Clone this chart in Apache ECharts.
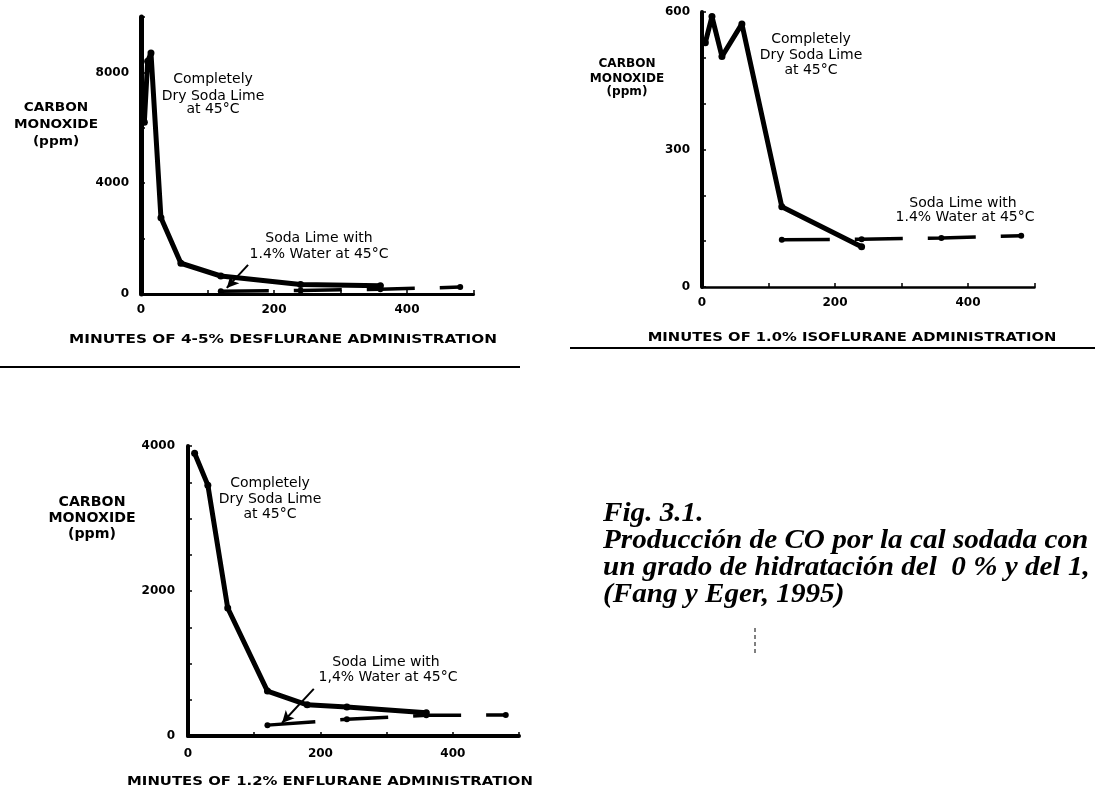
<!DOCTYPE html>
<html>
<head>
<meta charset="utf-8">
<script src="https://cdn.jsdelivr.net/npm/echarts@6/dist/echarts.min.js"></script>
<style>
  html, body { margin: 0; padding: 0; background: #fff; }
  #chart { width: 1095px; height: 801px; }
</style>
</head>
<body>
<div id="chart"></div>
<script>
// CO (ppm) vs minutes of anaesthetic administration, dry and 1.4 % water soda lime at 45 °C

// Desflurane 4-5 %
const desDryMinutes = [5, 10, 15, 30, 60, 120, 240, 360];
const desDryPpm     = [6200, 8400, 8700, 2750, 1110, 650, 340, 300];
const desWetMinutes = [120, 240, 360, 480];
const desWetPpm     = [100, 130, 170, 250];

// Isoflurane 1.0 %
const isoDryMinutes = [5, 15, 30, 60, 120, 240];
const isoDryPpm     = [533, 590, 503, 574, 175, 88];
const isoWetMinutes = [120, 240, 360, 480];
const isoWetPpm     = [103, 104, 107, 112];

// Enflurane 1.2 %
const enfDryMinutes = [10, 30, 60, 120, 180, 240, 360];
const enfDryPpm     = [3900, 3460, 1765, 620, 430, 400, 320];
const enfWetMinutes = [120, 240, 360, 480];
const enfWetPpm     = [150, 230, 285, 290];

// labelled tick values
const minuteTickLabels = [0, 200, 400];
const desPpmTickLabels = [0, 4000, 8000];
const isoPpmTickLabels = [0, 300, 600];
const enfPpmTickLabels = [0, 2000, 4000];

const pairs = (xs, ys) => xs.map((x, i) => [x, ys[i]]);

const tickFont = { color: '#000', fontFamily: 'DejaVu Sans', fontWeight: 'bold', fontSize: 12 };

function xAxisFor(gridIndex, lineWidth, margin) {
  return {
    type: 'value', gridIndex, min: 0, max: 500, interval: 100,
    axisLine: { show: true, onZero: false, lineStyle: { color: '#000', width: lineWidth } },
    axisTick: { show: true, inside: true, length: 4, lineStyle: { color: '#000', width: 1.5 } },
    axisLabel: Object.assign({ margin, formatter: v => minuteTickLabels.includes(v) ? String(v) : '' }, tickFont),
    splitLine: { show: false }
  };
}

function yAxisFor(gridIndex, max, interval, labels, lineWidth, margin) {
  return {
    type: 'value', gridIndex, min: 0, max, interval,
    axisLine: { show: true, onZero: false, lineStyle: { color: '#000', width: lineWidth } },
    axisTick: { show: true, inside: true, length: 4, lineStyle: { color: '#000', width: 1.5 } },
    axisLabel: Object.assign({ margin, formatter: v => labels.includes(v) ? String(v) : '' }, tickFont),
    splitLine: { show: false }
  };
}

function drySeries(idx, data) {
  return {
    type: 'line', xAxisIndex: idx, yAxisIndex: idx, data,
    symbol: 'circle', symbolSize: 7, showSymbol: true,
    itemStyle: { color: '#000' },
    lineStyle: { color: '#000', width: 5, join: 'round', cap: 'round' },
    z: 3
  };
}

function wetSeries(idx, data, arrow) {
  const s = {
    type: 'line', xAxisIndex: idx, yAxisIndex: idx, data,
    symbol: 'circle', symbolSize: 6, showSymbol: true,
    itemStyle: { color: '#000' },
    lineStyle: { color: '#000', width: 3.5, type: [48, 25] },
    z: 2
  };
  if (arrow) {
    s.markLine = {
      silent: true, animation: false,
      symbol: ['none', 'arrow'], symbolSize: [9, 12],
      label: { show: false },
      lineStyle: { color: '#000', width: 2, type: 'solid' },
      data: [[{ coord: arrow[0] }, { coord: arrow[1] }]]
    };
  }
  return s;
}

function text(str, x, y, font, scaleX, align) {
  return {
    type: 'text', x, y, scaleX: scaleX || 1, silent: true,
    style: {
      text: str, font, fill: '#000',
      align: align || 'center', verticalAlign: 'middle',
      textAlign: align || 'center', textVerticalAlign: 'middle'
    }
  };
}

const nameFont = size => 'bold ' + size + 'px "DejaVu Sans"';
const noteFont = '14px "DejaVu Sans"';
const titleFont = 'bold 13px "DejaVu Sans"';
const captionFont = 'italic bold 27px "Liberation Serif"';

const graphics = [
  // y-axis names
  text('CARBON', 56, 108, nameFont(13), 1.05),
  text('MONOXIDE', 56, 125, nameFont(13), 1.05),
  text('(ppm)', 56, 142, nameFont(13), 1.05),
  text('CARBON', 627, 64, nameFont(11.5), 1.05),
  text('MONOXIDE', 627, 79, nameFont(11.5), 1.05),
  text('(ppm)', 627, 92, nameFont(11.5), 1.05),
  text('CARBON', 92, 502, nameFont(13.5), 1.05),
  text('MONOXIDE', 92, 518, nameFont(13.5), 1.05),
  text('(ppm)', 92, 534, nameFont(13.5), 1.05),

  // x-axis titles
  text('MINUTES OF 4-5% DESFLURANE ADMINISTRATION', 283, 340, titleFont, 1.175),
  text('MINUTES OF 1.0% ISOFLURANE ADMINISTRATION', 852, 338, titleFont, 1.135),
  text('MINUTES OF 1.2% ENFLURANE ADMINISTRATION', 330, 782, titleFont, 1.145),

  // curve notes
  text('Completely', 213, 79, noteFont),
  text('Dry Soda Lime', 213, 96, noteFont),
  text('at 45°C', 213, 109, noteFont),
  text('Soda Lime with', 319, 238, noteFont),
  text('1.4% Water at 45°C', 319, 254, noteFont),

  text('Completely', 811, 39, noteFont),
  text('Dry Soda Lime', 811, 55, noteFont),
  text('at 45°C', 811, 70, noteFont),
  text('Soda Lime with', 963, 203, noteFont),
  text('1.4% Water at 45°C', 965, 217, noteFont),

  text('Completely', 270, 483, noteFont),
  text('Dry Soda Lime', 270, 499, noteFont),
  text('at 45°C', 270, 514, noteFont),
  text('Soda Lime with', 386, 662, noteFont),
  text('1,4% Water at 45°C', 388, 677, noteFont),

  // figure caption
  text('Fig. 3.1.', 603, 514, captionFont, 1.08, 'left'),
  text('Producción de CO por la cal sodada con', 603, 541, captionFont, 1.08, 'left'),
  text('un grado de hidratación del  0 % y del 1,', 603, 568, captionFont, 1.08, 'left'),
  text('(Fang y Eger, 1995)', 603, 595, captionFont, 1.08, 'left'),

  // separator rules
  { type: 'line', silent: true, shape: { x1: 0, y1: 367, x2: 520, y2: 367 }, style: { stroke: '#000', lineWidth: 2 } },
  { type: 'line', silent: true, shape: { x1: 570, y1: 348, x2: 1095, y2: 348 }, style: { stroke: '#000', lineWidth: 2 } },
  { type: 'line', silent: true, shape: { x1: 755, y1: 628, x2: 755, y2: 655 }, style: { stroke: '#000', lineWidth: 1, lineDash: [4, 3] } }
];

const option = {
  animation: false,
  backgroundColor: '#fff',
  grid: [
    { left: 141, top: 17, width: 332.5, height: 277, containLabel: false, outerBoundsMode: 'none' },
    { left: 702, top: 12, width: 332.5, height: 275, containLabel: false, outerBoundsMode: 'none' },
    { left: 188, top: 446, width: 331, height: 290, containLabel: false, outerBoundsMode: 'none' }
  ],
  xAxis: [
    xAxisFor(0, 3, 10),
    xAxisFor(1, 2.5, 10),
    xAxisFor(2, 4, 12)
  ],
  yAxis: [
    yAxisFor(0, 10000, 2000, desPpmTickLabels, 5, 12),
    yAxisFor(1, 600, 100, isoPpmTickLabels, 4, 12),
    yAxisFor(2, 4000, 500, enfPpmTickLabels, 4, 13)
  ],
  series: [
    drySeries(0, pairs(desDryMinutes, desDryPpm)),
    wetSeries(0, pairs(desWetMinutes, desWetPpm), [[161, 1050], [129, 220]]),
    drySeries(1, pairs(isoDryMinutes, isoDryPpm)),
    wetSeries(1, pairs(isoWetMinutes, isoWetPpm), null),
    drySeries(2, pairs(enfDryMinutes, enfDryPpm)),
    wetSeries(2, pairs(enfWetMinutes, enfWetPpm), [[190, 650], [142, 180]])
  ],
  graphic: graphics
};

const chart = echarts.init(document.getElementById('chart'), null, { renderer: 'canvas' });
chart.setOption(option);
</script>
</body>
</html>
